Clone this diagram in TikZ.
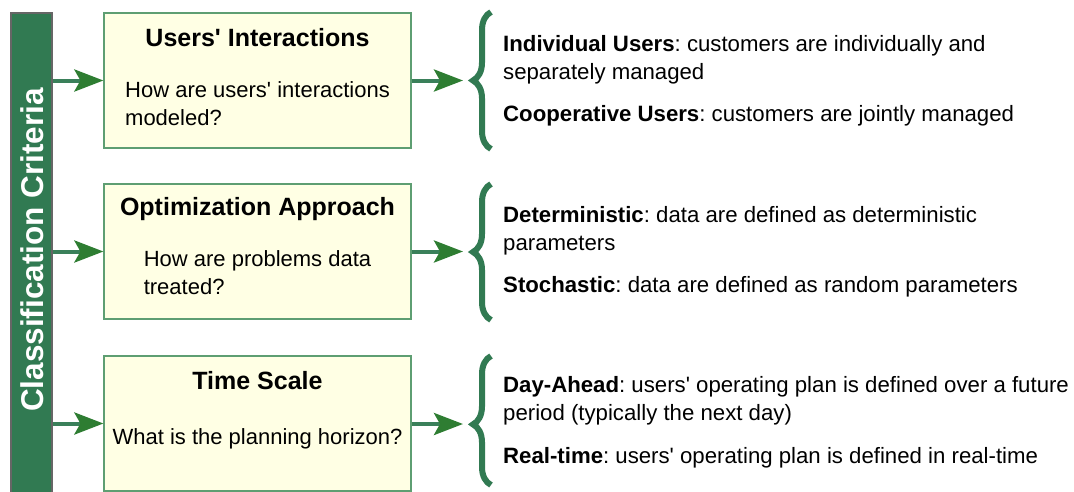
\documentclass[tikz,border=0pt]{standalone}
\usepackage{fontspec}
\setmainfont{Liberation Sans}
\frenchspacing
\usetikzlibrary{arrows.meta,decorations.pathreplacing}
\definecolor{bargreen}{HTML}{317A52}
\definecolor{linegreen}{HTML}{3A805A}
\definecolor{headgreen}{HTML}{2E7D32}
\definecolor{boxfill}{HTML}{FFFFE4}
\definecolor{boxline}{HTML}{5E9E72}
\newcommand{\q}{\textquotesingle}

\begin{document}
\begin{tikzpicture}[x=1pt,y=-1pt]
            \tikzstyle{crit}=[rectangle,draw=gray!80!black,fill=bargreen,line width=1.2pt,minimum width=41pt,minimum height=482pt,inner sep=0pt]
            \tikzstyle{class}=[rectangle,draw=boxline,fill=boxfill,line width=1.2pt,minimum width=307pt,minimum height=135pt,inner sep=0pt]
            \tikzstyle{title}=[anchor=base,inner sep=0pt,font=\bfseries\fontsize{25}{30}\selectfont]
            \tikzstyle{quest}=[anchor=base,inner sep=0pt,align=left,font=\fontsize{22}{27.5}\selectfont]
            \tikzstyle{item}=[anchor=base west,inner sep=0pt,align=left,font=\fontsize{22.2}{28}\selectfont]
            \tikzstyle{arr}=[draw=linegreen,line width=4pt,-{Stealth[length=29pt,width=22pt,inset=6pt,color=headgreen]}]
            \tikzstyle{curly}=[draw=bargreen,line width=6pt,decorate]
            \useasboundingbox (0,0) rectangle (1074,491);

                    \node[crit] (C) at (31.5, 254){};
                    \node[rotate=90,text=white,font=\bfseries\fontsize{31.5}{36}\selectfont] (L) at (32, 250){Classification Criteria};

                    \node[class] (B-1) at (257.5, 80.5){};
                    \node[title] (T-1) at (257.5, 46){Users\q{} Interactions};
                    \node[quest] (Q-1) at (257.5, 125){How are users\q{} interactions\\modeled?};

                    \node[class] (B-2) at (257.5, 251.5){};
                    \node[title] (T-2) at (257.5, 215){Optimization Approach};
                    \node[quest] (Q-2) at (257.5, 294){How are problems data\\treated?};

                    \node[class] (B-3) at (257.5, 423.5){};
                    \node[title] (T-3) at (257.5, 389){Time Scale};
                    \node[quest] (Q-3) at (257.5, 444){What is the planning horizon?};

                    \coordinate (P-1) at (463, 80.5);
                    \coordinate (P-2) at (463, 251.5);
                    \coordinate (P-3) at (463, 424);

                    \node[item] (I-1) at (503, 79){\textbf{Individual Users}: customers are individually and\\separately managed};
                    \node[item] (I-2) at (503, 121){\textbf{Cooperative Users}: customers are jointly managed};
                    \node[item] (I-3) at (503, 250){\textbf{Deterministic}: data are defined as deterministic\\parameters};
                    \node[item] (I-4) at (503, 292){\textbf{Stochastic}: data are defined as random parameters};
                    \node[item] (I-5) at (503, 420){\textbf{Day-Ahead}: users\q{} operating plan is defined over a future\\period (typically the next day)};
                    \node[item] (I-6) at (503, 463){\textbf{Real-time}: users\q{} operating plan is defined in real-time};

                    \coordinate (U-1) at (491, 12);   \coordinate (D-1) at (491, 149);
                    \coordinate (U-2) at (491, 184);  \coordinate (D-2) at (491, 320);
                    \coordinate (U-3) at (491, 356);  \coordinate (D-3) at (491, 485);

                % bar to boxes, boxes to braces
                \foreach \i in {1,2,3}{
                    \draw[arr] (C.east |- B-\i.west) -- (B-\i.west);
                    \draw[arr] (B-\i.east |- P-\i) -- (P-\i);
                }
                \foreach \i/\asp in {1/0.5, 2/0.5, 3/0.47}
                    \draw[curly,decoration={brace,amplitude=18pt,aspect=\asp}] (D-\i) -- (U-\i);
        \end{tikzpicture}
\end{document}
